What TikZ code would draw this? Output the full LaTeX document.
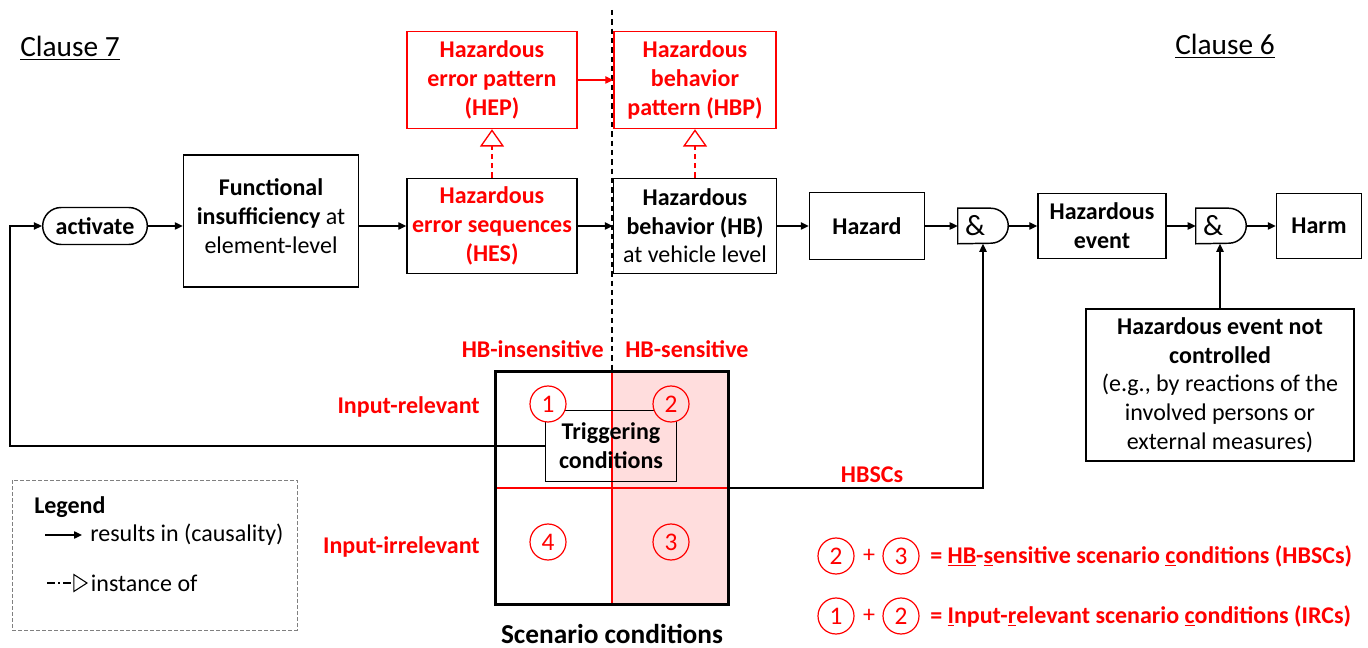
\documentclass[tikz,border=0pt]{standalone}
\usepackage{fontspec}
\setmainfont{Carlito}
\usetikzlibrary{arrows.meta,shapes.misc}

\newcommand\px{0.75pt}
\definecolor{hazred}{RGB}{255,0,0}
\definecolor{senspink}{RGB}{255,221,221}

\tikzset{
  box/.style={draw, line width=1.1pt, align=center, inner sep=2pt},
  redbox/.style={box, draw=hazred, text=hazred, font=\bfseries},
  gate/.style={minimum width=50*\px, minimum height=35*\px, inner sep=0pt, font=\fontsize{22}{26}\selectfont},
  num/.style={circle, draw=hazred, text=hazred, line width=0.9pt, minimum size=36*\px, inner sep=0pt, fill=white, font=\fontsize{19}{22}\selectfont},
  lbl/.style={text=hazred, font=\bfseries},
  cause/.style={-{Triangle[length=6pt,width=5.5pt]}, line width=1pt},
  inst/.style={draw=hazred, line width=1pt, dash pattern=on 4pt off 3pt, -{Triangle[open,length=13pt,width=18pt,fill=white]}},
}

\begin{document}
\fontsize{18}{21.5}\selectfont
\begin{tikzpicture}[x=0.75pt,y=-0.75pt]
\useasboundingbox (0,0) rectangle (1368,648);

% clause titles
\node[font=\fontsize{22}{26}\selectfont] (cl7) at (70,48) {\underline{Clause 7}};
\node[font=\fontsize{22}{26}\selectfont] (cl6) at (1225,46) {\underline{Clause 6}};

% main chain
\node[box, rounded rectangle, minimum width=110*\px, minimum height=37*\px, font=\bfseries] (act) at (95,226) {activate};
\node[box, minimum width=175*\px, minimum height=132*\px] (fi) at (271,221) {\textbf{Functional}\\\textbf{insufficiency} at\\element-level\\[-14pt]};
\node[box, text=hazred, font=\bfseries, minimum width=170*\px, minimum height=95*\px] (hes) at (492,226) {Hazardous\\error sequences\\(HES)};
\node[redbox, minimum width=170*\px, minimum height=97*\px] (hep) at (492,80) {Hazardous\\error pattern\\(HEP)};
\node[redbox, minimum width=162*\px, minimum height=97*\px] (hbp) at (695,80) {Hazardous\\behavior\\pattern (HBP)};
\node[box, minimum width=163*\px, minimum height=95*\px] (hb) at (695,226) {\textbf{Hazardous}\\\textbf{behavior (HB)}\\at vehicle level};
\node[box, minimum width=115*\px, minimum height=67*\px, font=\bfseries] (haz) at (867,226) {Hazard};
\node[gate] (g1) at (983,226) {\&\hspace*{12pt}};
\node[box, minimum width=128*\px, minimum height=65*\px, font=\bfseries] (hev) at (1102,226) {Hazardous\\event};
\node[gate] (g2) at (1221,226) {\&\hspace*{12pt}};
\node[box, minimum width=85*\px, minimum height=65*\px, font=\bfseries] (harm) at (1319,226) {Harm};
\node[box, minimum width=268*\px, minimum height=152*\px] (henc) at (1220,385) {\textbf{Hazardous event not}\\\textbf{controlled}\\(e.g., by reactions of the\\involved persons or\\external measures)};

% and gates
\foreach \g in {g1,g2}
  \draw[line width=1.1pt] (\g.north west) -- ([xshift=-17.5*\px]\g.north east) arc[start angle=-90,end angle=90,radius=17.5] -- (\g.south west) -- cycle;

% scenario conditions
\node[minimum width=233*\px, minimum height=232*\px, inner sep=0pt] (scen) at (612,488) {};
\fill[senspink] (scen.north) rectangle (scen.south east);
\draw[hazred, line width=1pt] (scen.north) -- (scen.south);
\draw[hazred, line width=1pt] (scen.west) -- (scen.east);
\draw[line width=2.2pt] (scen.north west) rectangle (scen.south east);
\draw[line width=1pt, dash pattern=on 4pt off 3pt] (612,10) -- (scen.north);
\node[box, minimum width=131*\px, minimum height=71*\px, font=\bfseries] (trig) at (611,446) {Triggering\\conditions};
\node[num] (c1) at (548,404) {1};
\node[num, fill=senspink] (c2) at (671,404) {2};
\node[num, fill=senspink] (c3) at (671,542) {3};
\node[num] (c4) at (548,542) {4};

\node[lbl, anchor=east] (hbi) at (612,349) {HB-insensitive};
\node[lbl, anchor=west] (hbs) at (617,349) {HB-sensitive};
\node[lbl, anchor=east] (inr) at (488,407) {Input-relevant};
\node[lbl, anchor=east] (ini) at (488,547) {Input-irrelevant};
\node[lbl] (hbsc) at (872,475) {HBSCs};
\node[font=\fontsize{20.5}{24}\selectfont\bfseries] (sctitle) at (612,634) {Scenario conditions};

% connectors
\coordinate (loop) at (10,0);
\draw[cause] (act.east) -- (act.east -| fi.west);
\draw[cause] (hes.west -| fi.east) -- (hes.west);
\draw[cause] (hes.east) -- (hb.west);
\draw[cause, hazred] (hep.east) -- (hbp.west);
\draw[inst] (hes.north) -- (hep.south);
\draw[inst] (hb.north) -- (hbp.south);
\draw[cause] (hb.east) -- (haz.west);
\draw[cause] (haz.east) -- (g1.west);
\draw[cause] (g1.east) -- (hev.west);
\draw[cause] (hev.east) -- (g2.west);
\draw[cause] (g2.east) -- (harm.west);
\draw[cause] (henc.north) -- (henc.north |- g2.south);
\draw[cause] (scen.east) -| (g1.south);
\draw[cause] (trig.west) -- (trig.west -| loop) |- (act.west);

% legend
\node[draw=gray, dash pattern=on 3pt off 1.5pt, line width=0.6pt, minimum width=285*\px, minimum height=150*\px] (legend) at (154.5,555) {};
\node[font=\bfseries, anchor=west] (legtitle) at (26,507) {Legend};
\coordinate (lca) at (45,535);
\node[anchor=west] (lcb) at (82,535) {results in (causality)};
\draw[cause] (lca) -- (lcb.west);
\coordinate (lia) at (47,583);
\node[anchor=west, inner sep=2pt] (lib) at (88,583) {instance of};
\draw[line width=0.8pt, dash pattern=on 6pt off 2.5pt on 1pt off 2.5pt, -{Triangle[open,length=11pt,width=14pt]}] (lia) -- (lib.west);

% definitions
\node[num] (e2a) at (836,556) {2};
\node[text=hazred] (p1) at (869,556) {+};
\node[num] (e3) at (901,556) {3};
\node[lbl, anchor=west] (d1) at (922,556) {= \underline{HB}-\underline{s}ensitive scenario \underline{c}onditions (HBSCs)};
\node[num] (e1) at (836,616) {1};
\node[text=hazred] (p2) at (869,616) {+};
\node[num] (e2b) at (901,616) {2};
\node[lbl, anchor=west] (d2) at (922,616) {= \underline{I}nput-\underline{r}elevant scenario \underline{c}onditions (IRCs)};
\end{tikzpicture}
\end{document}
